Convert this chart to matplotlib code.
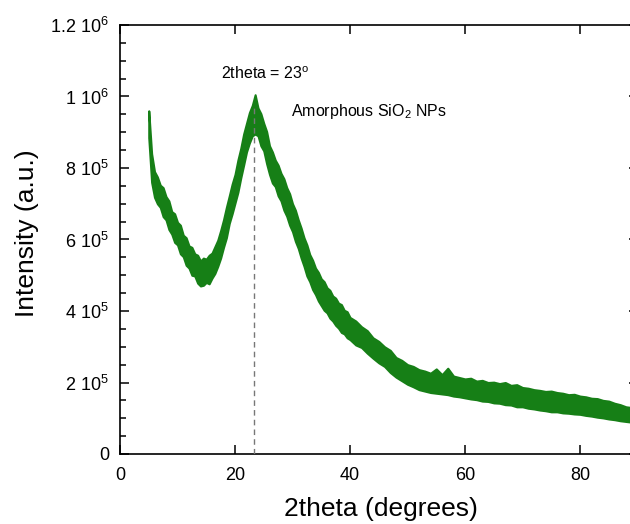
import matplotlib
matplotlib.use("Agg")
import matplotlib.pyplot as plt
from matplotlib.ticker import FixedLocator, FixedFormatter, AutoMinorLocator

plt.rcParams['font.family'] = ['Liberation Sans', 'DejaVu Sans']
plt.rcParams['mathtext.fontset'] = 'custom'
plt.rcParams['mathtext.rm'] = 'Liberation Sans'
plt.rcParams['mathtext.it'] = 'Liberation Sans:italic'
plt.rcParams['mathtext.bf'] = 'Liberation Sans:bold'

# ---- data ----
two_theta = [5.0, 5.5, 6.0, 6.5, 7.0, 7.5, 8.0, 8.5, 9.0, 9.5, 10.0, 10.5, 11.0, 11.5,
             12.0, 12.5, 13.0, 13.5, 14.0, 14.5, 15.0, 15.5, 16.0, 16.5, 17.0, 17.5,
             18.0, 18.5, 19.0, 19.5, 20.0, 20.5, 21.0, 21.5, 22.0, 22.5, 23.0, 23.5,
             24.0, 24.5, 25.0, 25.5, 26.0, 26.5, 27.0, 27.5, 28.0, 28.5, 29.0, 29.5,
             30.0, 30.5, 31.0, 31.5, 32.0, 32.5, 33.0, 33.5, 34.0, 34.5, 35.0, 35.5,
             36.0, 36.5, 37.0, 37.5, 38.0, 38.5, 39.0, 39.5, 40.0,
             41, 42, 43, 44, 45, 46, 47, 48, 49, 50, 51, 52, 53, 54, 55, 56, 57, 58,
             59, 60, 61, 62, 63, 64, 65, 66, 67, 68, 69, 70, 71, 72, 73, 74, 75, 76,
             77, 78, 79, 80, 81, 82, 83, 84, 85, 86, 87, 88, 89, 90]
intensity_upper_k = [960, 840, 790, 775, 752, 745, 720, 708, 678, 672, 648, 640, 612, 605,
                     582, 578, 560, 556, 540, 548, 545, 556, 562, 580, 598, 625,
                     655, 690, 722, 755, 782, 822, 855, 895, 925, 955, 975, 1005,
                     968, 952, 925, 902, 862, 845, 822, 808, 785, 770, 745, 728,
                     700, 682, 655, 632, 605, 585, 558, 542, 520, 508, 490, 482,
                     465, 458, 442, 436, 422, 418, 402, 398, 382,
                     372, 356, 345, 325, 315, 300, 290, 270, 262, 250, 245, 236, 232, 226,
                     238, 222, 240, 218, 214, 210, 212, 204, 206, 200, 201, 197, 200, 192,
                     194, 186, 184, 180, 178, 175, 176, 172, 170, 166, 167, 162, 160, 156,
                     155, 150, 148, 142, 138, 132, 130, 126]
intensity_lower_k = [885, 760, 718, 700, 690, 664, 655, 628, 615, 592, 585, 560, 552, 528,
                     520, 500, 498, 478, 470, 472, 480, 476, 492, 505, 525, 548,
                     578, 605, 645, 672, 702, 732, 772, 808, 845, 870, 890, 895,
                     890, 862, 848, 812, 782, 758, 748, 722, 708, 682, 665, 640,
                     622, 595, 575, 548, 525, 498, 482, 460, 446, 428, 415, 402,
                     395, 380, 372, 360, 352, 340, 336, 325, 320,
                     305, 298, 282, 268, 255, 245, 228, 215, 205, 195, 188, 180, 176, 172,
                     170, 168, 166, 162, 160, 157, 154, 152, 148, 147, 143, 142, 138, 137,
                     132, 132, 128, 126, 123, 121, 118, 118, 115, 114, 112, 111, 108, 106,
                     103, 101, 98, 96, 93, 91, 89, 87]
intensity_upper = [v * 1e3 for v in intensity_upper_k]
intensity_lower = [v * 1e3 for v in intensity_lower_k]

peak_x = 23.3
peak_top = 9.8e5

xticks = [0, 20, 40, 60, 80]
xtick_labels = ['0', '20', '40', '60', '80']
yticks = [0, 2e5, 4e5, 6e5, 8e5, 1e6, 1.2e6]
ytick_labels = ['0', r'2 10$^{5}$', r'4 10$^{5}$', r'6 10$^{5}$', r'8 10$^{5}$',
                r'1 10$^{6}$', r'1.2 10$^{6}$']

green = '#167f16'

fig = plt.figure(figsize=(6.3, 5.24), dpi=100)
ax = fig.add_axes([120 / 630, 70 / 524, 517.5 / 630, 429 / 524])

ax.fill_between(two_theta, intensity_lower, intensity_upper, color=green,
                edgecolor=green, linewidth=1.5, zorder=2)
ax.plot([peak_x, peak_x], [0, peak_top], color='#777777', lw=1.0,
        dashes=(4, 3), zorder=3)

ax.text(17.6, 1.063e6, r'2theta = 23$^{\mathrm{o}}$', fontsize=11.5, va='center', ha='left')
ax.text(29.8, 0.958e6, r'Amorphous SiO$_{2}$ NPs', fontsize=11.5, va='center', ha='left')

ax.set_xlim(0, 90)
ax.set_ylim(0, 1.2e6)
ax.xaxis.set_major_locator(FixedLocator(xticks))
ax.xaxis.set_major_formatter(FixedFormatter(xtick_labels))
ax.yaxis.set_major_locator(FixedLocator(yticks))
ax.yaxis.set_major_formatter(FixedFormatter(ytick_labels))
ax.yaxis.set_minor_locator(AutoMinorLocator(4))

ax.tick_params(which='both', direction='in', top=True, right=True, width=1.1,
               labelsize=13)
ax.tick_params(which='major', length=6.5)
ax.tick_params(which='minor', length=4)
ax.tick_params(axis='x', pad=9)
ax.tick_params(axis='y', pad=8)
for s in ax.spines.values():
    s.set_linewidth(1.2)

ax.set_xlabel('2theta (degrees)', fontsize=19)
ax.set_ylabel('Intensity (a.u.)', fontsize=19, va='center')
ax.xaxis.set_label_coords(0.504, -0.10)
ax.yaxis.set_label_coords(-0.18, 0.515)

fig.savefig('out.png', dpi=100)
